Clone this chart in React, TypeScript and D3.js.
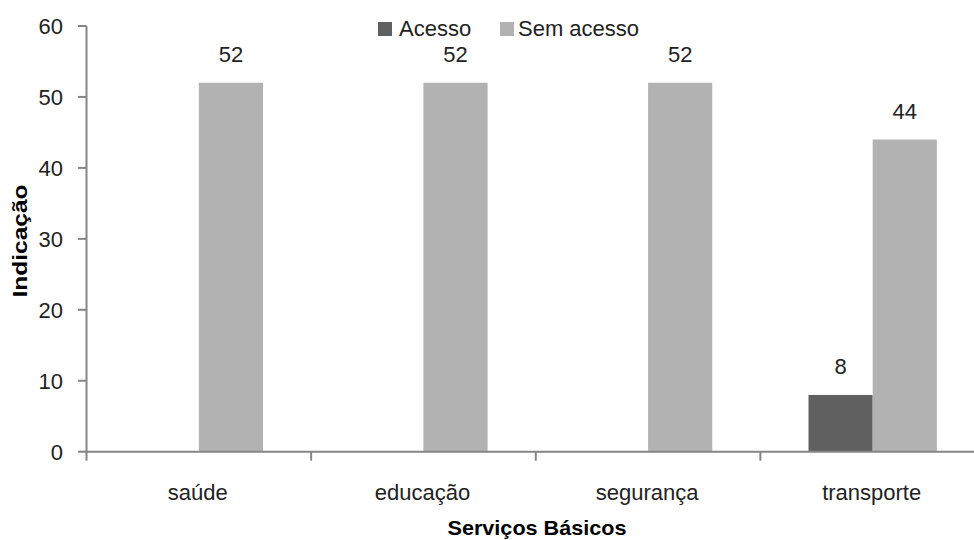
import React from "react";
import * as d3 from "d3";

// Services and the number of indications for each access status
const categories = ["saúde", "educação", "segurança", "transporte"];
const seriesNames = ["Acesso", "Sem acesso"];
const acesso = [0, 0, 0, 8];
const semAcesso = [52, 52, 52, 44];
const yTicks = [0, 10, 20, 30, 40, 50, 60];

const colors = ["#606060", "#b2b2b2"];
const axisColor = "#868686";
const textColor = "#222";
const font = "'Liberation Sans', Arial, sans-serif";

const W = 974;
const H = 540;

export default function App() {
  const x = d3.scaleBand<string>().domain(categories).range([86.5, 985]).padding(0);
  const band = x.bandwidth();
  // two bars per category, gap of 150% of a bar width split on both sides
  const barW = band / 3.5;
  const inner = d3
    .scaleBand<string>()
    .domain(seriesNames)
    .range([band * 0.75 / 3.5, band * 0.75 / 3.5 + 2 * barW])
    .padding(0);
  const y = d3.scaleLinear().domain([0, 60]).range([451.7, 26]);

  const series = [acesso, semAcesso];

  return (
    <svg
      width={W}
      height={H}
      style={{ position: "absolute", left: 0, top: 0, background: "#fff" }}
      fontFamily={font}
    >
      {/* bars */}
      {series.map((vals, si) =>
        vals.map((v, ci) =>
          v > 0 ? (
            <rect
              key={`b-${si}-${ci}`}
              x={(x(categories[ci]) ?? 0) + (inner(seriesNames[si]) ?? 0)}
              y={y(v)}
              width={inner.bandwidth()}
              height={y(0) - y(v)}
              fill={colors[si]}
            />
          ) : null
        )
      )}
      {/* value labels */}
      {series.map((vals, si) =>
        vals.map((v, ci) =>
          v > 0 ? (
            <text
              key={`l-${si}-${ci}`}
              x={(x(categories[ci]) ?? 0) + (inner(seriesNames[si]) ?? 0) + inner.bandwidth() / 2}
              y={y(v) - 20.5}
              textAnchor="middle"
              fontSize={22}
              fill={textColor}
            >
              {v}
            </text>
          ) : null
        )
      )}

      {/* y axis */}
      <line x1={86.5} x2={86.5} y1={y(60)} y2={y(0)} stroke={axisColor} strokeWidth={2} />
      {yTicks.map((t) => (
        <g key={`yt-${t}`}>
          <line x1={78} x2={86.5} y1={y(t)} y2={y(t)} stroke={axisColor} strokeWidth={2} />
          <text x={63} y={y(t) + 8} textAnchor="end" fontSize={22} fill={textColor}>
            {t}
          </text>
        </g>
      ))}

      {/* x axis */}
      <line x1={85.5} x2={W} y1={y(0)} y2={y(0)} stroke={axisColor} strokeWidth={2} />
      {categories.map((c) => (
        <line
          key={`xt-${c}`}
          x1={x(c) ?? 0}
          x2={x(c) ?? 0}
          y1={y(0)}
          y2={y(0) + 9}
          stroke={axisColor}
          strokeWidth={2}
        />
      ))}
      {categories.map((c) => (
        <text
          key={`xl-${c}`}
          x={(x(c) ?? 0) + band / 2 - 1}
          y={500}
          textAnchor="middle"
          fontSize={22}
          fill={textColor}
        >
          {c}
        </text>
      ))}

      {/* axis titles */}
      <text
        x={537}
        y={535}
        textAnchor="middle"
        fontSize={21}
        fontWeight="bold"
        fill="#000"
        textLength={179}
        lengthAdjust="spacingAndGlyphs"
      >
        Serviços Básicos
      </text>
      <text
        transform="translate(27,241) rotate(-90)"
        textAnchor="middle"
        fontSize={21}
        fontWeight="bold"
        fill="#000"
        textLength={113}
        lengthAdjust="spacingAndGlyphs"
      >
        Indicação
      </text>

      {/* legend */}
      <rect x={378} y={22} width={14} height={14} fill={colors[0]} />
      <text x={399} y={36} fontSize={22} fill={textColor}>
        {seriesNames[0]}
      </text>
      <rect x={500} y={22} width={14} height={14} fill={colors[1]} />
      <text x={518} y={36} fontSize={22} fill={textColor}>
        {seriesNames[1]}
      </text>
    </svg>
  );
}
